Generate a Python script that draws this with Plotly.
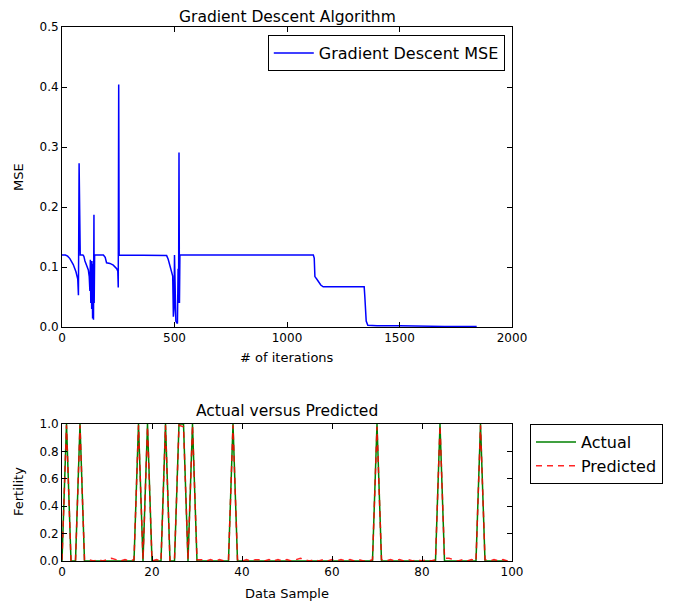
import plotly.graph_objects as go

# ---------------- data ----------------
# Gradient descent MSE curve (key points)
gd_iter = [0, 15, 25, 35, 50, 62, 70, 73, 76, 79, 81, 93, 97, 102, 110, 117, 121, 124, 126, 128, 130, 132,
           134, 136, 138, 140, 142, 143, 144, 145, 146, 170, 184, 192, 198, 213, 222, 228, 243, 248, 250,
           252, 254, 258, 300, 400, 460, 465, 472, 480, 487, 492, 495, 498, 500, 503, 506, 510, 513, 516,
           518, 520, 522, 523, 524, 526, 700, 900, 1100, 1117, 1121, 1124, 1132, 1139, 1150, 1161, 1200,
           1300, 1343, 1346, 1352, 1359, 1400, 1500, 1600, 1700, 1800, 1843]
gd_mse = [0.120, 0.120, 0.118, 0.114, 0.104, 0.092, 0.080, 0.053, 0.273, 0.120, 0.120, 0.120, 0.118, 0.110,
          0.103, 0.095, 0.084, 0.060, 0.112, 0.040, 0.110, 0.030, 0.105, 0.014, 0.110, 0.012, 0.187, 0.040,
          0.187, 0.120, 0.120, 0.120, 0.120, 0.116, 0.107, 0.106, 0.104, 0.103, 0.097, 0.093, 0.066,
          0.404, 0.120, 0.120, 0.120, 0.120, 0.120, 0.119, 0.113, 0.100, 0.094, 0.085, 0.017, 0.030,
          0.120, 0.060, 0.010, 0.007, 0.006, 0.097, 0.040, 0.291, 0.040, 0.096, 0.120, 0.120, 0.120,
          0.120, 0.120, 0.120, 0.115, 0.084, 0.080, 0.076, 0.070, 0.067, 0.067, 0.067, 0.067, 0.050,
          0.010, 0.003, 0.002, 0.002, 0.001, 0.001, 0.001, 0.001]

# Actual vs predicted fertility (100 samples)
sample_idx = list(range(100))
actual_ones = [1, 4, 17, 19, 23, 26, 27, 29, 38, 70, 84, 93]
actual = [1.0 if i in actual_ones else 0.0 for i in sample_idx]
predicted = [
    0.01, 0.99, 0.00, 0.00, 0.99, 0.01, 0.01, 0.00, 0.01, 0.00,
    0.01, 0.02, 0.01, 0.00, 0.01, 0.00, 0.01, 0.99, 0.01, 0.98,
    0.00, 0.01, 0.00, 0.99, 0.00, 0.01, 0.99, 0.98, 0.01, 0.99,
    0.01, 0.01, 0.00, 0.01, 0.00, 0.01, 0.00, 0.01, 0.99, 0.01,
    0.00, 0.01, 0.00, 0.01, 0.01, 0.00, 0.01, 0.00, 0.01, 0.00,
    0.01, 0.00, 0.01, 0.02, 0.01, 0.00, 0.01, 0.00, 0.01, 0.00,
    0.01, 0.00, 0.01, 0.00, 0.01, 0.00, 0.01, 0.00, 0.00, 0.01,
    0.98, 0.01, 0.00, 0.01, 0.00, 0.01, 0.00, 0.01, 0.00, 0.01,
    0.00, 0.01, 0.00, 0.01, 0.99, 0.02, 0.02, 0.01, 0.00, 0.01,
    0.00, 0.01, 0.00, 0.99, 0.01, 0.00, 0.01, 0.00, 0.01, 0.00,
]

top_xticks = [0, 500, 1000, 1500, 2000]
top_yticks = [0.0, 0.1, 0.2, 0.3, 0.4, 0.5]
bot_xticks = [0, 20, 40, 60, 80, 100]
bot_yticks = [0.0, 0.2, 0.4, 0.6, 0.8, 1.0]

# ---------------- figure ----------------
FONT = "DejaVu Sans"
fig = go.Figure()

fig.add_trace(go.Scatter(x=gd_iter, y=gd_mse, mode="lines", name="Gradient Descent MSE", showlegend=True,
                         line=dict(color="#0000ff", width=1.5), xaxis="x", yaxis="y", legend="legend"))
fig.add_trace(go.Scatter(x=sample_idx, y=actual, mode="lines", name="Actual", showlegend=True,
                         line=dict(color="#008000", width=1.5), xaxis="x2", yaxis="y2", legend="legend2"))
fig.add_trace(go.Scatter(x=sample_idx, y=predicted, mode="lines", name="Predicted", showlegend=True,
                         line=dict(color="#ff0000", width=1.5, dash="6px,5px"), opacity=0.85,
                         xaxis="x2", yaxis="y2", legend="legend2"))

axis_common = dict(showline=True, linecolor="black", linewidth=1, mirror="allticks",
                   ticks="inside", ticklen=5, tickcolor="black", showgrid=False, zeroline=False,
                   tickfont=dict(family=FONT, size=12, color="black"))

H_TOP_BOTTOM = 0.4382
H_BOT_TOP = 0.2566

fig.update_layout(
    width=678, height=605,
    showlegend=True,
    margin=dict(l=54, r=174, t=19, b=52),
    paper_bgcolor="white", plot_bgcolor="white",
    font=dict(family=FONT, size=12, color="black"),
    xaxis=dict(domain=[0, 1], range=[0, 2000], tickvals=top_xticks, anchor="y", **axis_common),
    yaxis=dict(domain=[H_TOP_BOTTOM, 1], range=[0, 0.5], tickvals=top_yticks, tickformat=".1f",
               anchor="x", **axis_common),
    xaxis2=dict(domain=[0, 1], range=[0, 100], tickvals=bot_xticks, anchor="y2", **axis_common),
    yaxis2=dict(domain=[0, H_BOT_TOP], range=[0, 1], tickvals=bot_yticks, tickformat=".1f",
                anchor="x2", **axis_common),
    legend=dict(x=0.984, y=0.985, xanchor="right", yanchor="top", bordercolor="black", borderwidth=1,
                bgcolor="white", itemwidth=40, font=dict(family=FONT, size=16, color="black")),
    legend2=dict(x=1.04, y=H_BOT_TOP, xanchor="left", yanchor="top", bordercolor="black", borderwidth=1,
                 bgcolor="white", itemwidth=40, font=dict(family=FONT, size=16, color="black")),
    annotations=[
        dict(text="Gradient Descent Algorithm", x=0.5, y=(561 - 16.5) / 534, xref="paper", yref="paper",
             xanchor="center", yanchor="middle", showarrow=False, borderpad=0,
             font=dict(family=FONT, size=15.5)),
        dict(text="Actual versus Predicted", x=0.5, y=0.281, xref="paper", yref="paper",
             xanchor="center", yanchor="middle", showarrow=False, font=dict(family=FONT, size=15.5)),
        dict(text="# of iterations", x=0.5, y=(561 - 357) / 534, xref="paper", yref="paper",
             xanchor="center", yanchor="middle", showarrow=False, font=dict(family=FONT, size=13)),
        dict(text="Data Sample", x=0.5, y=(561 - 593) / 534, xref="paper", yref="paper",
             xanchor="center", yanchor="middle", showarrow=False, font=dict(family=FONT, size=13)),
        dict(text="MSE", x=(18 - 62) / 450, y=(561 - 177) / 534, xref="paper", yref="paper",
             xanchor="center", yanchor="middle", textangle=-90, showarrow=False,
             font=dict(family=FONT, size=13)),
        dict(text="Fertility", x=(18 - 62) / 450, y=(561 - 492) / 534, xref="paper", yref="paper",
             xanchor="center", yanchor="middle", textangle=-90, showarrow=False,
             font=dict(family=FONT, size=13)),
    ],
)

fig.write_html("out.html")
